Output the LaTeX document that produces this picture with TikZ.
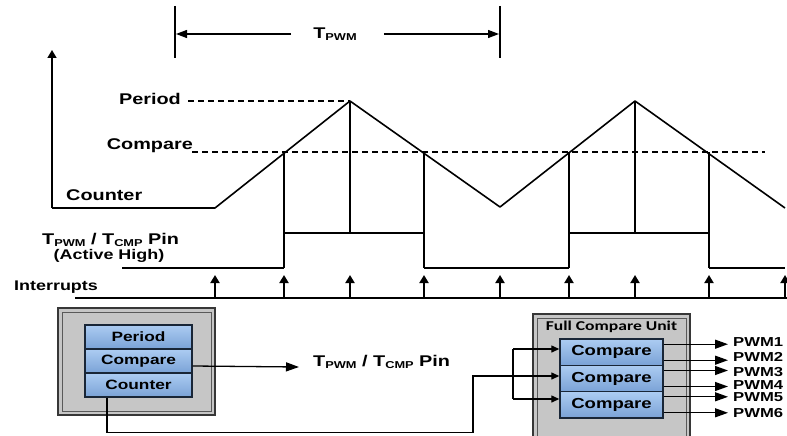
\documentclass[tikz,border=0pt]{standalone}
\usepackage{fontspec}
\setmainfont{Liberation Sans}[FakeStretch=1.28]
\newfontfamily\calfont{Carlito}[FakeStretch=1.3]
\usetikzlibrary{arrows.meta}
\definecolor{boxgray}{RGB}{198,198,198}
\definecolor{boxedge}{RGB}{55,55,55}
\definecolor{bluetop}{RGB}{172,204,242}
\definecolor{bluebot}{RGB}{122,162,214}
\definecolor{blueedge}{RGB}{25,38,55}
\newcommand\Tsub[1]{T\raisebox{-0.3ex}{\fontsize{10}{10}\selectfont #1}}
\begin{document}
\begin{tikzpicture}[x=1pt,y=-1pt,
  wave/.style={line width=1.6pt, line join=round},
  dashline/.style={line width=1.1pt, dash pattern=on 6pt off 4pt},
  lbl/.style={font=\fontsize{15.5}{15.5}\selectfont\bfseries, inner sep=0pt},
  smlbl/.style={font=\fontsize{14}{14}\selectfont\bfseries, inner sep=0pt},
  tipbig/.style={-{Triangle[length=11pt,width=8pt]}},
  tipsm/.style={-{Triangle[length=8pt,width=9pt]}},
  conn/.style={line width=1.3pt, -{Triangle[length=13pt,width=9pt]}},
  graybox/.style={draw=boxedge, fill=boxgray, line width=1.6pt, inner sep=0pt},
  reg/.style={draw=blueedge, line width=1.4pt, top color=bluetop, bottom color=bluebot,
              inner sep=0pt, minimum width=107pt, font=\fontsize{13.5}{13.5}\selectfont\bfseries},
  creg/.style={draw=blueedge, line width=1.4pt, top color=bluetop, bottom color=bluebot,
              inner sep=0pt, minimum width=103pt, minimum height=26.3pt, font=\fontsize{14.5}{14.5}\selectfont\bfseries},
  pwm/.style={anchor=west, inner sep=0pt, font=\fontsize{13}{13}\selectfont\bfseries}]
\useasboundingbox (0,0) rectangle (787,436);

% T_PWM dimension
\coordinate (dl) at (176,34);
\coordinate (dr) at (499,34);
\draw[line width=1.6pt] (175,6) -- (175,58);
\draw[line width=1.6pt] (500,6) -- (500,58);
\node[lbl] (tpwm) at (335,34) {\Tsub{PWM}};
\draw[line width=1.3pt, tipbig, shorten <=22pt] (tpwm.west) -- (dl);
\draw[line width=1.3pt, tipbig, shorten <=27pt] (tpwm.east) -- (dr);

% axis and counter waveform
\draw[wave, tipsm] (52,208) -- (52,50);
\draw[wave] (52,208) -- (215,208) -- (350,101) -- (500,207) -- (635,101) -- (785,208);
\draw[dashline] (188,101) -- (350,101);
\draw[dashline] (192,152) -- (765,152);
\node[lbl, anchor=east] (lper) at (181,99) {Period};
\node[lbl, anchor=east] (lcmp) at (193,146) {Compare};
\node[lbl, anchor=west] (lcnt) at (66,195) {Counter};

% vertical markers
\draw[wave] (284,152) -- (284,268);
\draw[wave] (350,101) -- (350,233);
\draw[wave] (424,152) -- (424,268);
\draw[wave] (569,152) -- (569,268);
\draw[wave] (635,101) -- (635,233);
\draw[wave] (709,152) -- (709,268);

% PWM output waveform
\draw[wave] (122,268) -- (284,268) (284,233) -- (424,233) (424,268) -- (569,268)
            (569,233) -- (709,233) (709,268) -- (785,268);
\node[lbl, anchor=west] (lpin) at (42,240) {\Tsub{PWM} / \Tsub{CMP} Pin};
\node[smlbl] (lact) at (109,256) {(Active High)};

% interrupts
\node[lbl, anchor=west, font=\fontsize{14}{14}\selectfont\bfseries] (lint) at (14,287) {Interrupts};
\draw[wave] (75,298) -- (787,298);
\foreach \x in {215,284,350,424,500,569,635,709,785}
  \draw[line width=1.8pt, tipsm] (\x,298) -- (\x,275);

% left timer block
\node[graybox, minimum width=157pt, minimum height=107pt] (tbox) at (136.5,361.5) {};
\draw[gray!70!black, line width=0.6pt] (62,312) rectangle (211,411);
\node[reg, minimum height=24pt] (rper) at (138.5,337) {Period};
\node[reg, minimum height=24pt] (rcmp) at (138.5,361) {Compare};
\node[reg, minimum height=24pt] (rcnt) at (138.5,385) {Counter};
\node[lbl, anchor=west] (pinlbl) at (313,362) {\Tsub{PWM} / \Tsub{CMP} Pin};
\draw[conn] ([yshift=-5pt]rcmp.east) -- ([yshift=-5pt,xshift=-14pt]pinlbl.west);

% full compare unit
\node[graybox, minimum width=157pt, minimum height=126pt] (fcu) at (611.5,377) {};
\draw[gray!70!black, line width=0.6pt] (537,318) rectangle (686,440);
\node[inner sep=0pt, font=\calfont\fontsize{13.5}{13.5}\selectfont\bfseries] (fcul) at (611.5,327) {Full Compare Unit};
\node[creg] (c1) at (611.5,352.2) {Compare};
\node[creg] (c2) at (611.5,378.5) {Compare};
\node[creg] (c3) at (611.5,404.8) {Compare};

% counter bus
\coordinate (b1) at (513,349);
\coordinate (b3) at (513,399);
\draw[line width=1.3pt] ([xshift=-31.5pt]rcnt.south) -- ++(0,35) -| (473,376) -- (513,376);
\draw[conn, -{Triangle[length=8pt,width=7pt]}] (473,376) -- (c2.west |- 0,376);
\draw[line width=1.3pt] (b1) -- (b3);
\draw[conn, -{Triangle[length=8pt,width=7pt]}] (b1) -- (c1.west |- b1);
\draw[conn, -{Triangle[length=8pt,width=7pt]}] (b3) -- (c3.west |- b3);

% PWM outputs
\foreach \n/\c/\dy/\ly in {1/c1/-8/342, 2/c1/8/357, 3/c2/-8/372, 4/c2/8/385, 5/c3/-8/397, 6/c3/8/413} {
  \coordinate (o\n) at ([yshift=-\dy pt]\c.east);
  \node[pwm] (p\n) at (733,\ly) {PWM\n};
  \draw[conn] (o\n) -- ([xshift=-5pt]o\n -| p\n.west);
}
\end{tikzpicture}
\end{document}
